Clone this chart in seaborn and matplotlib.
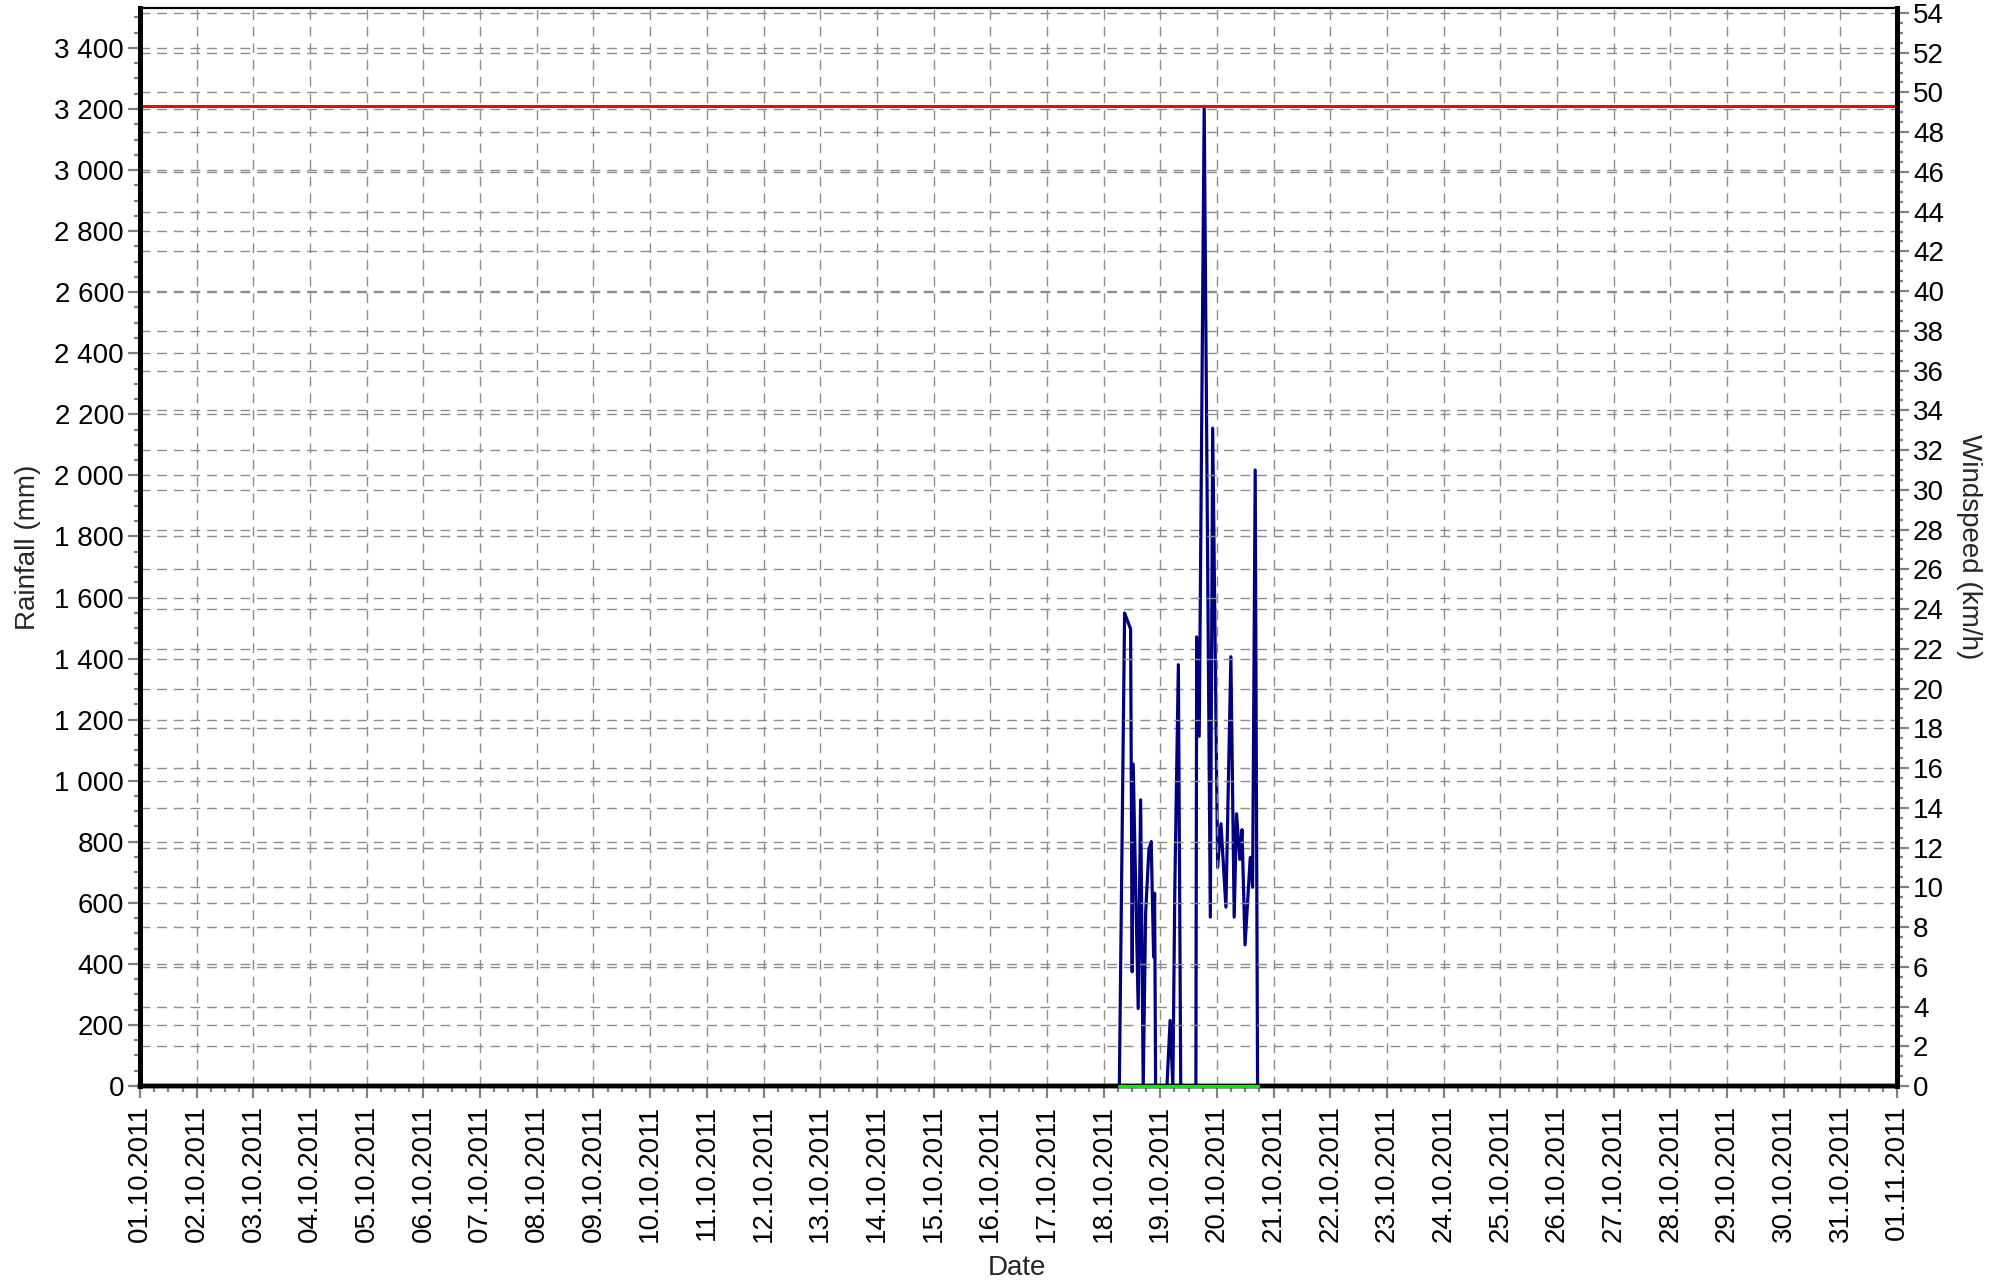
import pandas as pd
import matplotlib
matplotlib.use("Agg")
import matplotlib.pyplot as plt
import matplotlib.dates as mdates
from matplotlib.ticker import MultipleLocator, FuncFormatter
import seaborn as sns

sns.set_theme(style="white")
plt.rcParams["font.family"] = ["Liberation Sans", "DejaVu Sans"]

# windspeed readings (km/h)
wind_times = [
    "2011-10-01 00:00", "2011-10-18 06:40", "2011-10-18 08:54", "2011-10-18 11:26",
    "2011-10-18 12:07", "2011-10-18 12:32", "2011-10-18 14:39", "2011-10-18 15:41",
    "2011-10-18 16:47", "2011-10-18 17:48", "2011-10-18 19:12", "2011-10-18 20:10",
    "2011-10-18 21:11", "2011-10-18 21:36", "2011-10-18 22:02", "2011-10-19 02:50",
    "2011-10-19 04:10", "2011-10-19 05:20", "2011-10-19 06:10", "2011-10-19 07:40",
    "2011-10-19 08:40", "2011-10-19 15:05", "2011-10-19 15:25", "2011-10-19 16:30",
    "2011-10-19 18:36", "2011-10-19 21:12", "2011-10-19 22:12", "2011-10-20 00:18",
    "2011-10-20 01:42", "2011-10-20 03:48", "2011-10-20 05:54", "2011-10-20 07:18",
    "2011-10-20 08:18", "2011-10-20 09:42", "2011-10-20 10:36", "2011-10-20 11:54",
    "2011-10-20 14:06", "2011-10-20 15:06", "2011-10-20 16:12", "2011-10-20 17:12",
    "2011-11-01 00:00",
]
wind_kmh = [
    0, 0, 23.8, 23.0,
    5.75, 16.2, 3.9, 14.4,
    0, 8.7, 11.9, 12.3,
    6.5, 9.7, 0, 0,
    3.3, 0, 10.0, 21.2,
    0, 0, 22.6, 17.6,
    49.3, 8.5, 33.1, 11.0,
    13.2, 9.0, 21.6, 8.5,
    13.7, 11.4, 12.9, 7.1,
    11.5, 10.0, 31.0, 0,
    0,
]

# rainfall readings (mm)
rain_times = ["2011-10-18 06:40", "2011-10-19 12:00", "2011-10-20 17:12"]
rain_mm = [0, 0, 0]

wind_max = 49.3

wind = pd.DataFrame({"time": pd.to_datetime(wind_times), "speed": wind_kmh})
rain = pd.DataFrame({"time": pd.to_datetime(rain_times), "rain": rain_mm})

fig = plt.figure(figsize=(20.09, 12.84), dpi=100)
ax = fig.add_axes([0.0697, 0.1542, 0.8746, 0.8396])
ax2 = ax.twinx()

grid_kw = dict(color="#8c8c8c", linestyle=(0, (7, 5)), linewidth=1.0)

sns.lineplot(data=wind, x="time", y="speed", ax=ax2, color="#000080",
             linewidth=2.3, clip_on=False, zorder=3)
ax2.axhline(wind_max, color="#ff0000", linewidth=2.2, zorder=4)
sns.lineplot(data=rain, x="time", y="rain", ax=ax, color="#00ee00",
             linewidth=2.3, clip_on=False, zorder=5)

ax.set_zorder(ax2.get_zorder() + 1)
ax.patch.set_visible(False)

ax.set_xlim(pd.Timestamp("2011-10-01"), pd.Timestamp("2011-11-01"))
ax.set_ylim(0, 3531)
ax2.set_ylim(0, 54.25)

ax.xaxis.set_major_locator(mdates.DayLocator())
ax.xaxis.set_minor_locator(mdates.HourLocator(byhour=[6, 12, 18]))
ax.xaxis.set_major_formatter(mdates.DateFormatter("%d.%m.%Y"))
ax.yaxis.set_major_locator(MultipleLocator(200))
ax.yaxis.set_minor_locator(MultipleLocator(50))
ax.yaxis.set_major_formatter(FuncFormatter(lambda v, p: f"{v:,.0f}".replace(",", " ")))
ax2.yaxis.set_major_locator(MultipleLocator(2))
ax2.yaxis.set_minor_locator(MultipleLocator(0.5))

ax.grid(True, which="major", axis="both", **grid_kw)
ax2.grid(True, which="major", axis="y", **grid_kw)
ax2.grid(False, axis="x")

for a in (ax, ax2):
    a.tick_params(which="major", direction="out", length=8.5, width=1.6,
                  color="#808080", labelsize=20, labelcolor="black")
    a.tick_params(which="minor", direction="out", length=4.5, width=1.6,
                  color="#808080")
ax.tick_params(axis="x", which="major", rotation=90, pad=5)
ax.tick_params(axis="y", which="both", left=True, pad=3)
ax.tick_params(axis="x", which="both", bottom=True)
ax2.tick_params(axis="y", which="both", right=True, pad=3)

for a in (ax, ax2):
    for side, lw in (("left", 3.6), ("right", 3.6), ("bottom", 3.2), ("top", 1.5)):
        a.spines[side].set_color("black")
        a.spines[side].set_linewidth(lw)

ax.set_xlabel("Date", fontsize=20, va="top")
ax.set_ylabel("Rainfall (mm)", fontsize=20, va="center", ha="center")
ax2.set_ylabel("Windspeed (km/h)", fontsize=20, rotation=270, va="center", ha="center")
ax.xaxis.set_label_coords(0.499, -0.157)
ax.yaxis.set_label_coords(-0.064, 0.5)
ax2.yaxis.set_label_coords(1.041, 0.5)

fig.savefig("out.png", dpi=100)
